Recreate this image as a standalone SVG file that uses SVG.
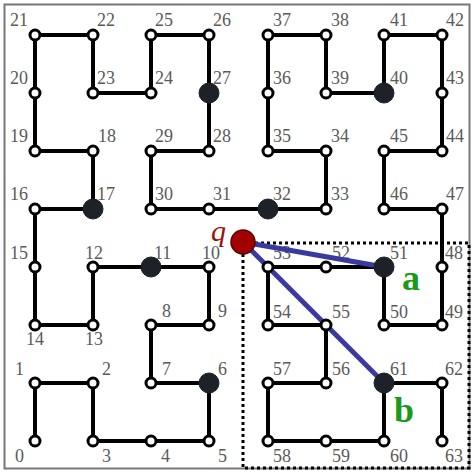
<svg xmlns="http://www.w3.org/2000/svg" width="473" height="472" viewBox="0 0 473 472">
<style>
.lbl{font-family:"Liberation Serif","Times New Roman",serif;font-size:18px;fill:#5a5a5a}
.e{stroke:#000;stroke-width:4;stroke-linecap:round}
.n{fill:#fff;stroke:#000;stroke-width:3}
.f{fill:#1c2228;stroke:#1c2228;stroke-width:1}
.blue{stroke:#3a3a9e;stroke-width:5;stroke-linecap:round}
</style>
<rect x="0" y="0" width="473" height="472" fill="#fff"/>
<rect x="4.5" y="4.5" width="465" height="464" fill="none" stroke="#777" stroke-width="2"/>
<rect id="region" x="243" y="243" width="226" height="225" fill="none" stroke="#000" stroke-width="3" stroke-dasharray="3 3"/>
<g id="connectors">
<line class="e" x1="35" y1="441" x2="35" y2="383"/>
<line class="e" x1="35" y1="383" x2="93" y2="383"/>
<line class="e" x1="93" y1="383" x2="93" y2="441"/>
<line class="e" x1="93" y1="441" x2="151" y2="441"/>
<line class="e" x1="151" y1="441" x2="209" y2="441"/>
<line class="e" x1="209" y1="441" x2="209" y2="383"/>
<line class="e" x1="209" y1="383" x2="151" y2="383"/>
<line class="e" x1="151" y1="383" x2="151" y2="325"/>
<line class="e" x1="151" y1="325" x2="209" y2="325"/>
<line class="e" x1="209" y1="325" x2="209" y2="267"/>
<line class="e" x1="209" y1="267" x2="151" y2="267"/>
<line class="e" x1="151" y1="267" x2="93" y2="267"/>
<line class="e" x1="93" y1="267" x2="93" y2="325"/>
<line class="e" x1="93" y1="325" x2="35" y2="325"/>
<line class="e" x1="35" y1="325" x2="35" y2="267"/>
<line class="e" x1="35" y1="267" x2="35" y2="209"/>
<line class="e" x1="35" y1="209" x2="93" y2="209"/>
<line class="e" x1="93" y1="209" x2="93" y2="151"/>
<line class="e" x1="93" y1="151" x2="35" y2="151"/>
<line class="e" x1="35" y1="151" x2="35" y2="93"/>
<line class="e" x1="35" y1="93" x2="35" y2="35"/>
<line class="e" x1="35" y1="35" x2="93" y2="35"/>
<line class="e" x1="93" y1="35" x2="93" y2="93"/>
<line class="e" x1="93" y1="93" x2="151" y2="93"/>
<line class="e" x1="151" y1="93" x2="151" y2="35"/>
<line class="e" x1="151" y1="35" x2="209" y2="35"/>
<line class="e" x1="209" y1="35" x2="209" y2="93"/>
<line class="e" x1="209" y1="93" x2="209" y2="151"/>
<line class="e" x1="209" y1="151" x2="151" y2="151"/>
<line class="e" x1="151" y1="151" x2="151" y2="209"/>
<line class="e" x1="151" y1="209" x2="209" y2="209"/>
<line class="e" x1="209" y1="209" x2="268" y2="209"/>
<line class="e" x1="268" y1="209" x2="326" y2="209"/>
<line class="e" x1="326" y1="209" x2="326" y2="151"/>
<line class="e" x1="326" y1="151" x2="268" y2="151"/>
<line class="e" x1="268" y1="151" x2="268" y2="93"/>
<line class="e" x1="268" y1="93" x2="268" y2="35"/>
<line class="e" x1="268" y1="35" x2="326" y2="35"/>
<line class="e" x1="326" y1="35" x2="326" y2="93"/>
<line class="e" x1="326" y1="93" x2="384" y2="93"/>
<line class="e" x1="384" y1="93" x2="384" y2="35"/>
<line class="e" x1="384" y1="35" x2="442" y2="35"/>
<line class="e" x1="442" y1="35" x2="442" y2="93"/>
<line class="e" x1="442" y1="93" x2="442" y2="151"/>
<line class="e" x1="442" y1="151" x2="384" y2="151"/>
<line class="e" x1="384" y1="151" x2="384" y2="209"/>
<line class="e" x1="384" y1="209" x2="442" y2="209"/>
<line class="e" x1="442" y1="209" x2="442" y2="267"/>
<line class="e" x1="442" y1="267" x2="442" y2="325"/>
<line class="e" x1="442" y1="325" x2="384" y2="325"/>
<line class="e" x1="384" y1="325" x2="384" y2="267"/>
<line class="e" x1="384" y1="267" x2="326" y2="267"/>
<line class="e" x1="326" y1="267" x2="268" y2="267"/>
<line class="e" x1="268" y1="267" x2="268" y2="325"/>
<line class="e" x1="268" y1="325" x2="326" y2="325"/>
<line class="e" x1="326" y1="325" x2="326" y2="383"/>
<line class="e" x1="326" y1="383" x2="268" y2="383"/>
<line class="e" x1="268" y1="383" x2="268" y2="441"/>
<line class="e" x1="268" y1="441" x2="326" y2="441"/>
<line class="e" x1="326" y1="441" x2="384" y2="441"/>
<line class="e" x1="384" y1="441" x2="384" y2="383"/>
<line class="e" x1="384" y1="383" x2="442" y2="383"/>
<line class="e" x1="442" y1="383" x2="442" y2="441"/>
</g>
<g id="labels">
<text class="lbl" x="10" y="26">21</text><text class="lbl" x="97" y="26">22</text><text class="lbl" x="155" y="26">25</text><text class="lbl" x="213" y="26">26</text><text class="lbl" x="273" y="26">37</text><text class="lbl" x="331" y="26">38</text><text class="lbl" x="390" y="26">41</text><text class="lbl" x="446" y="26">42</text>
<text class="lbl" x="10" y="84">20</text><text class="lbl" x="97" y="84">23</text><text class="lbl" x="155" y="84">24</text><text class="lbl" x="213" y="84">27</text><text class="lbl" x="273" y="84">36</text><text class="lbl" x="331" y="84">39</text><text class="lbl" x="390" y="84">40</text><text class="lbl" x="446" y="84">43</text>
<text class="lbl" x="10" y="142">19</text><text class="lbl" x="98" y="142">18</text><text class="lbl" x="155" y="142">29</text><text class="lbl" x="213" y="142">28</text><text class="lbl" x="273" y="142">35</text><text class="lbl" x="331" y="142">34</text><text class="lbl" x="390" y="142">45</text><text class="lbl" x="446" y="142">44</text>
<text class="lbl" x="10" y="200">16</text><text class="lbl" x="97" y="200">17</text><text class="lbl" x="155" y="200">30</text><text class="lbl" x="213" y="200">31</text><text class="lbl" x="273" y="200">32</text><text class="lbl" x="331" y="200">33</text><text class="lbl" x="390" y="200">46</text><text class="lbl" x="446" y="200">47</text>
<text class="lbl" x="10" y="259">15</text><text class="lbl" x="85" y="259">12</text><text class="lbl" x="154" y="259">11</text><text class="lbl" x="202" y="259">10</text><text class="lbl" x="273" y="259">53</text><text class="lbl" x="332" y="259">52</text><text class="lbl" x="390" y="259">51</text><text class="lbl" x="445" y="259">48</text>
<text class="lbl" x="26" y="345">14</text><text class="lbl" x="85" y="345">13</text><text class="lbl" x="162" y="317">8</text><text class="lbl" x="218" y="317">9</text><text class="lbl" x="273" y="318">54</text><text class="lbl" x="332" y="318">55</text><text class="lbl" x="390" y="318">50</text><text class="lbl" x="445" y="318">49</text>
<text class="lbl" x="15" y="375">1</text><text class="lbl" x="102" y="375">2</text><text class="lbl" x="162" y="375">7</text><text class="lbl" x="218" y="375">6</text><text class="lbl" x="273" y="375">57</text><text class="lbl" x="332" y="375">56</text><text class="lbl" x="390" y="375">61</text><text class="lbl" x="445" y="375">62</text>
<text class="lbl" x="15" y="462">0</text><text class="lbl" x="102" y="462">3</text><text class="lbl" x="161" y="462">4</text><text class="lbl" x="218" y="462">5</text><text class="lbl" x="273" y="462">58</text><text class="lbl" x="332" y="462">59</text><text class="lbl" x="390" y="462">60</text><text class="lbl" x="445" y="462">63</text>
</g>
<g id="distances">
<line class="blue" x1="243" y1="242" x2="384" y2="267"/>
<line class="blue" x1="243" y1="242" x2="384" y2="383"/>
</g>
<g id="nodes">
<circle id="n0" class="n" cx="35" cy="441" r="5"/>
<circle id="n1" class="n" cx="35" cy="383" r="5"/>
<circle id="n2" class="n" cx="93" cy="383" r="5"/>
<circle id="n3" class="n" cx="93" cy="441" r="5"/>
<circle id="n4" class="n" cx="151" cy="441" r="5"/>
<circle id="n5" class="n" cx="209" cy="441" r="5"/>
<circle id="n6" class="f" cx="209" cy="383" r="10"/>
<circle id="n7" class="n" cx="151" cy="383" r="5"/>
<circle id="n8" class="n" cx="151" cy="325" r="5"/>
<circle id="n9" class="n" cx="209" cy="325" r="5"/>
<circle id="n10" class="n" cx="209" cy="267" r="5"/>
<circle id="n11" class="f" cx="151" cy="267" r="10"/>
<circle id="n12" class="n" cx="93" cy="267" r="5"/>
<circle id="n13" class="n" cx="93" cy="325" r="5"/>
<circle id="n14" class="n" cx="35" cy="325" r="5"/>
<circle id="n15" class="n" cx="35" cy="267" r="5"/>
<circle id="n16" class="n" cx="35" cy="209" r="5"/>
<circle id="n17" class="f" cx="93" cy="209" r="10"/>
<circle id="n18" class="n" cx="93" cy="151" r="5"/>
<circle id="n19" class="n" cx="35" cy="151" r="5"/>
<circle id="n20" class="n" cx="35" cy="93" r="5"/>
<circle id="n21" class="n" cx="35" cy="35" r="5"/>
<circle id="n22" class="n" cx="93" cy="35" r="5"/>
<circle id="n23" class="n" cx="93" cy="93" r="5"/>
<circle id="n24" class="n" cx="151" cy="93" r="5"/>
<circle id="n25" class="n" cx="151" cy="35" r="5"/>
<circle id="n26" class="n" cx="209" cy="35" r="5"/>
<circle id="n27" class="f" cx="209" cy="93" r="10"/>
<circle id="n28" class="n" cx="209" cy="151" r="5"/>
<circle id="n29" class="n" cx="151" cy="151" r="5"/>
<circle id="n30" class="n" cx="151" cy="209" r="5"/>
<circle id="n31" class="n" cx="209" cy="209" r="5"/>
<circle id="n32" class="f" cx="268" cy="209" r="10"/>
<circle id="n33" class="n" cx="326" cy="209" r="5"/>
<circle id="n34" class="n" cx="326" cy="151" r="5"/>
<circle id="n35" class="n" cx="268" cy="151" r="5"/>
<circle id="n36" class="n" cx="268" cy="93" r="5"/>
<circle id="n37" class="n" cx="268" cy="35" r="5"/>
<circle id="n38" class="n" cx="326" cy="35" r="5"/>
<circle id="n39" class="n" cx="326" cy="93" r="5"/>
<circle id="n40" class="f" cx="384" cy="93" r="10"/>
<circle id="n41" class="n" cx="384" cy="35" r="5"/>
<circle id="n42" class="n" cx="442" cy="35" r="5"/>
<circle id="n43" class="n" cx="442" cy="93" r="5"/>
<circle id="n44" class="n" cx="442" cy="151" r="5"/>
<circle id="n45" class="n" cx="384" cy="151" r="5"/>
<circle id="n46" class="n" cx="384" cy="209" r="5"/>
<circle id="n47" class="n" cx="442" cy="209" r="5"/>
<circle id="n48" class="n" cx="442" cy="267" r="5"/>
<circle id="n49" class="n" cx="442" cy="325" r="5"/>
<circle id="n50" class="n" cx="384" cy="325" r="5"/>
<circle id="n51" class="f" cx="384" cy="267" r="10"/>
<circle id="n52" class="n" cx="326" cy="267" r="5"/>
<circle id="n53" class="n" cx="268" cy="267" r="5"/>
<circle id="n54" class="n" cx="268" cy="325" r="5"/>
<circle id="n55" class="n" cx="326" cy="325" r="5"/>
<circle id="n56" class="n" cx="326" cy="383" r="5"/>
<circle id="n57" class="n" cx="268" cy="383" r="5"/>
<circle id="n58" class="n" cx="268" cy="441" r="5"/>
<circle id="n59" class="n" cx="326" cy="441" r="5"/>
<circle id="n60" class="n" cx="384" cy="441" r="5"/>
<circle id="n61" class="f" cx="384" cy="383" r="10"/>
<circle id="n62" class="n" cx="442" cy="383" r="5"/>
<circle id="n63" class="n" cx="442" cy="441" r="5"/>
</g>
<g id="query">
<circle cx="243" cy="242" r="12" fill="#a30000" stroke="#5a0000" stroke-width="1.5"/>
<text x="211" y="241" font-family="Liberation Serif, serif" font-style="italic" font-size="30" fill="#a01010">q</text>
</g>
<text id="label-a" x="402" y="290" font-family="Liberation Serif, serif" font-weight="bold" font-size="36" fill="#1a9a1a">a</text>
<text id="label-b" x="394" y="422" font-family="Liberation Serif, serif" font-weight="bold" font-size="36" fill="#1a9a1a">b</text>
</svg>
